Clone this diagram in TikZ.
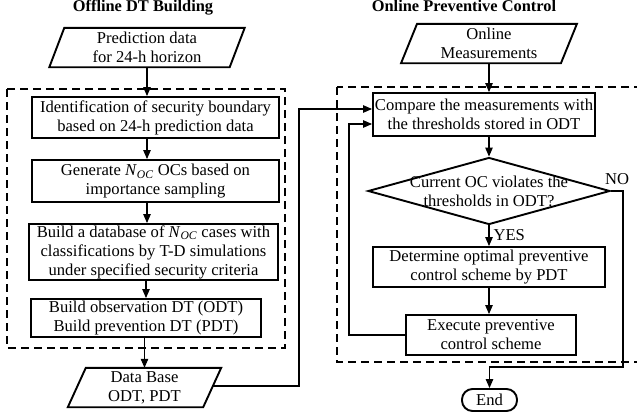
\documentclass[tikz,border=0pt]{standalone}
\usepackage{fontspec}
\setmainfont{Liberation Serif}
\usetikzlibrary{arrows.meta,shapes.geometric}
\newcommand{\noc}{\textit{N}\textsubscript{\textit{OC}}}
\begin{document}
\begin{tikzpicture}[x=1pt,y=-1pt,
  every node/.style={font=\fontsize{16.6}{19}\selectfont, align=center, inner sep=0pt},
  box/.style={draw, line width=1.9pt, minimum width=#1},
  conn/.style={line width=1.1pt},
  arr/.style={line width=1.1pt, -{Triangle[length=9pt,width=7.5pt]}},
  dbox/.style={line width=1.4pt, dash pattern=on 8pt off 5pt},
  ttl/.style={font=\fontsize{16.4}{19}\selectfont\bfseries}
]
\useasboundingbox (0,0) rectangle (637,415);

% titles
\node[ttl, anchor=base] (t1) at (143,12) {Offline DT Building};
\node[ttl, anchor=base] (t2) at (464,12) {Online Preventive Control};

% dashed frames
\draw[dbox] (7,89) rectangle (285,348);
\draw[dbox] (337,87) rectangle (650,362);

% left column
\node[minimum width=180pt, minimum height=39pt] (pred) at (147,47.5) {Prediction data\\for 24-h horizon};
\draw[line width=1.9pt] ([xshift=7.5pt]pred.north west) -- ([xshift=7.5pt]pred.north east)
  -- ([xshift=-7.5pt]pred.south east) -- ([xshift=-7.5pt]pred.south west) -- cycle;

\node[box=247pt, minimum height=41pt] (b1) at (155.5,117.5) {Identification of security boundary\\based on 24-h prediction data};
\node[box=247pt, minimum height=42pt] (b2) at (155.5,181) {Generate \noc{} OCs based on\\importance sampling};
\node[box=249pt, minimum height=56pt] (b3) at (153.5,252) {Build a database of \noc{} cases with\\classifications by T-D simulations\\under specified security criteria};
\node[box=230pt, minimum height=38pt] (b4) at (146,318) {Build observation DT (ODT)\\Build prevention DT (PDT)};

\node[minimum width=135pt, minimum height=39pt] (db) at (144.5,387.5) {Data Base\\ODT, PDT};
\draw[line width=1.9pt] ([xshift=9pt]db.north west) -- ([xshift=9pt]db.north east)
  -- ([xshift=-9pt]db.south east) -- ([xshift=-9pt]db.south west) -- cycle;

\draw[arr] (pred.south) -- (pred.south |- b1.north);
\draw[arr] (pred.south |- b1.south) -- (pred.south |- b2.north);
\draw[arr] (pred.south |- b2.south) -- (pred.south |- b3.north);
\draw[arr] ([xshift=-1pt]pred.south |- b3.south) -- ([xshift=-1pt]pred.south |- b4.north);
\draw[arr] (db.north |- b4.south) -- (db.north);

% right column
\node[minimum width=159.5pt, minimum height=39pt] (om) at (489,43.5) {Online\\Measurements};
\draw[line width=1.9pt] ([xshift=8pt]om.north west) -- ([xshift=8pt]om.north east)
  -- ([xshift=-8pt]om.south east) -- ([xshift=-8pt]om.south west) -- cycle;

\node[box=222pt, minimum height=43pt] (cmp) at (484,114.5) {Compare the measurements with\\the thresholds stored in ODT};
\node[diamond, draw, line width=1.9pt, minimum width=242pt, minimum height=67pt] (dia) at (489,191) {};
\node (diat) at (489,191) {Current OC violates the\\thresholds in ODT?};
\node[box=232pt, minimum height=40pt] (det) at (489,267) {Determine optimal preventive\\control scheme by PDT};
\node[box=170pt, minimum height=40pt] (exe) at (491,335) {Execute preventive\\control scheme};
\node[draw, line width=1.9pt, rounded corners=10.5pt, minimum width=55pt, minimum height=22pt] (end) at (489.5,400) {End};

\coordinate (c1) at (299,386);
\coordinate (c2) at (349,124);
\coordinate (c3) at (623,367);

\draw[arr] (om.south) -- (om.south |- cmp.north);
\draw[arr] (om.south |- cmp.south) -- (dia.north);
\draw[arr] (dia.south) -- node[right=4pt, pos=0.45] (yes) {YES} (dia.south |- det.north);
\draw[arr] (dia.south |- det.south) -- (dia.south |- exe.north);
\draw[arr] (db.east |- c1) -- (c1) -- (c1 |- 0,109) -- (cmp.west |- 0,109);
\draw[arr] (exe.west) -- (c2 |- exe.west) -- (c2) -- (cmp.west |- c2);
\draw[arr] (dia.east) -- (dia.east -| c3) -- (c3) -- (c3 -| end.north) -- (end.north);
\node[anchor=base] (no) at (617,184) {NO};
\end{tikzpicture}
\end{document}
